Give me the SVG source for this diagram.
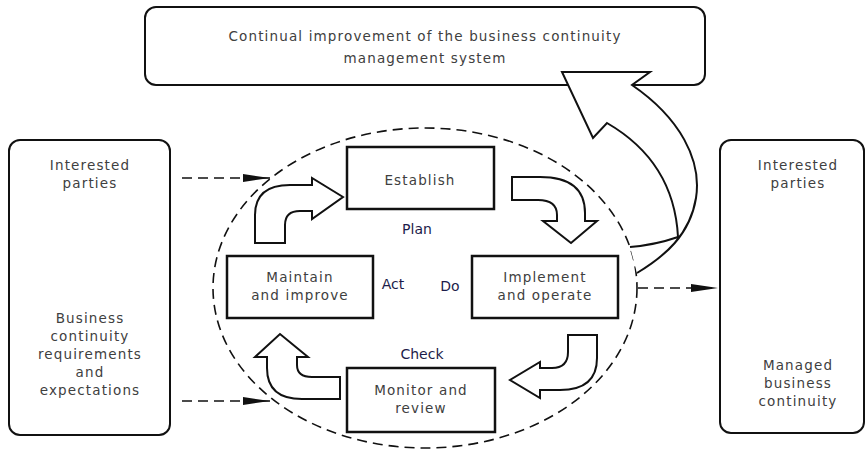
<svg xmlns="http://www.w3.org/2000/svg" width="868" height="450" viewBox="0 0 868 450">
<defs>
<style>
.t{font-family:"DejaVu Sans","Liberation Sans",sans-serif;font-size:13.5px;fill:#404040;text-anchor:middle;letter-spacing:1.15px}
.p{font-family:"DejaVu Sans","Liberation Sans",sans-serif;font-size:14px;fill:#1c1c4a;text-anchor:middle}
.box{fill:#fff;stroke:#111;stroke-width:2.5}
.side{fill:#fff;stroke:#111;stroke-width:2}
.ba{fill:#fff;stroke:#111;stroke-width:2;stroke-linejoin:miter}
.dash{fill:none;stroke:#111;stroke-width:1.6;stroke-dasharray:10 6}
</style>
<marker id="ah" markerWidth="28" markerHeight="10" refX="27" refY="5" orient="auto" markerUnits="userSpaceOnUse">
<path d="M0,1 L27,5 L0,9 Z" fill="#111"/>
</marker>
</defs>

<g id="top-box">
<rect x="145" y="7" width="560" height="78" rx="11" class="side"/>
<text class="t" x="425" y="41">Continual improvement  of the business continuity</text>
<text class="t" x="425" y="63">management system</text>
</g>

<g id="left-box">
<rect x="9" y="140" width="161" height="295" rx="11" class="side"/>
<text class="t" x="90" y="170">Interested</text>
<text class="t" x="90" y="188">parties</text>
<text class="t" x="90" y="323">Business</text>
<text class="t" x="90" y="341">continuity</text>
<text class="t" x="90" y="359">requirements</text>
<text class="t" x="90" y="377">and</text>
<text class="t" x="90" y="395">expectations</text>
</g>

<g id="right-box">
<rect x="720" y="140" width="144" height="293" rx="11" class="side"/>
<text class="t" x="798" y="170">Interested</text>
<text class="t" x="798" y="188">parties</text>
<text class="t" x="798" y="370">Managed</text>
<text class="t" x="798" y="388">business</text>
<text class="t" x="798" y="406">continuity</text>
</g>

<g id="pdca-cycle">
<ellipse cx="425" cy="288" rx="212" ry="160" class="dash" stroke-dasharray="8 5"/>
</g>

<g id="establish">
<rect x="347" y="147" width="147" height="62" class="box"/>
<text class="t" x="420" y="185">Establish</text>
</g>
<g id="implement">
<rect x="472" y="256" width="146" height="62" class="box"/>
<text class="t" x="545" y="282">Implement</text>
<text class="t" x="545" y="300">and operate</text>
</g>
<g id="monitor">
<rect x="347" y="368" width="148" height="64" class="box"/>
<text class="t" x="421" y="395">Monitor and</text>
<text class="t" x="421" y="413">review</text>
</g>
<g id="maintain">
<rect x="227" y="256" width="146" height="62" class="box"/>
<text class="t" x="300" y="282">Maintain</text>
<text class="t" x="300" y="300">and improve</text>
</g>

<g id="labels">
<text class="p" x="417" y="234">Plan</text>
<text class="p" x="393" y="289">Act</text>
<text class="p" x="450" y="291">Do</text>
<text class="p" x="422" y="359">Check</text>
</g>

<g id="connectors">
<path class="ba" d="M255,243 L255,215 Q255,185 290,185 L312,185 L312,178 L343,197 L312,219 L312,211 L300,211 Q285,211 285,225 L285,243 Z"/>
<path class="ba" d="M512,177 L540,177 Q585,177 585,213 L585,221 L597,221 L571,243 L543,221 L557,221 L557,215 Q557,200 538,200 L512,200 Z"/>
<path class="ba" d="M568,335 L597,335 L597,358 Q597,390 560,390 L540,390 L540,398 L510,380 L540,362 L540,368 L552,368 Q568,368 568,352 Z"/>
<path class="ba" d="M340,377 L312,377 Q297,377 297,365 L297,357 L308,357 L280,334 L255,357 L267,357 L267,368 Q267,399 302,399 L340,399 Z"/>

<path d="M562,72 L650,72 L632,85 C680,118 702,160 696,198 C690,235 665,256 637,273 L630,247 Q655,245 678,237 C675,180 645,145 607,123 L593,138 Z" fill="#fff" stroke="none"/>
<path d="M630,247 Q655,245 678,237 C675,180 645,145 607,123 L593,138 L562,72 L650,72 L632,85 C680,118 702,160 696,198 C690,235 665,256 637,273" fill="none" stroke="#111" stroke-width="2" stroke-linejoin="miter"/>

<line x1="182" y1="178" x2="270" y2="178" class="dash" marker-end="url(#ah)"/>
<line x1="182" y1="401" x2="270" y2="401" class="dash" marker-end="url(#ah)"/>
<line x1="638" y1="288" x2="718" y2="288" class="dash" marker-end="url(#ah)"/>
</g>
</svg>
